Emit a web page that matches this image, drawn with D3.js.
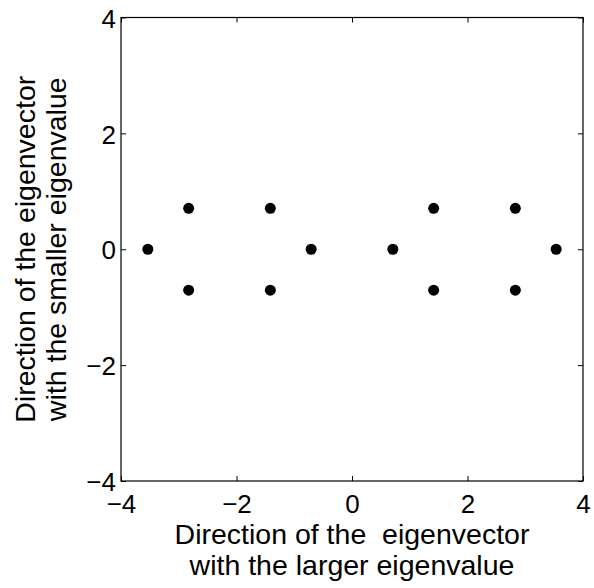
<!DOCTYPE html>
<html><head><meta charset="utf-8">
<script src="https://cdn.jsdelivr.net/npm/d3@7"></script>
<style>body{margin:0;background:#fff}svg{display:block}text{font-family:"Liberation Sans",Arial,sans-serif;fill:#000}</style>
</head><body><div id="chart"></div>
<script>
const xValues = [-3.5355, -2.8284, -2.8284, -1.4142, -1.4142, -0.7071, 0.7071, 1.4142, 1.4142, 2.8284, 2.8284, 3.5355];
const yValues = [0, 0.7071, -0.7071, 0.7071, -0.7071, 0, 0, 0.7071, -0.7071, 0.7071, -0.7071, 0];
const xTicks = [-4, -2, 0, 2, 4];
const yTicks = [-4, -2, 0, 2, 4];
const xLabelLines = ["Direction of the  eigenvector", "with the larger eigenvalue"];
const yLabelLines = ["Direction of the eigenvector", "with the smaller eigenvalue"];

const W = 594, H = 588;
const m = {left: 121, right: 11, top: 17.5, bottom: 107};
const svg = d3.select("#chart").append("svg").attr("width", W).attr("height", H);
const x = d3.scaleLinear().domain([-4, 4]).range([m.left, W - m.right]);
const y = d3.scaleLinear().domain([-4, 4]).range([H - m.bottom, m.top]);
const fsTick = 26, fsLabel = 28.5;

// box
svg.append("rect").attr("x", x(-4)).attr("y", y(4)).attr("width", x(4) - x(-4)).attr("height", y(-4) - y(4))
  .attr("fill", "none").attr("stroke", "#000").attr("stroke-width", 1.2);

const fmt = d => d < 0 ? "\u2212" + Math.abs(d) : d;
const gx = svg.append("g").attr("transform", `translate(0,${y(-4)})`)
  .call(d3.axisBottom(x).tickValues(xTicks).tickSizeInner(-5).tickSizeOuter(0).tickPadding(14).tickFormat(fmt));
const gxTop = svg.append("g").attr("transform", `translate(0,${y(4)})`)
  .call(d3.axisTop(x).tickValues(xTicks).tickSizeInner(-5).tickSizeOuter(0).tickFormat(""));
const gy = svg.append("g").attr("transform", `translate(${x(-4)},0)`)
  .call(d3.axisLeft(y).tickValues(yTicks).tickSizeInner(-5).tickSizeOuter(0).tickPadding(5).tickFormat(fmt));
const gyR = svg.append("g").attr("transform", `translate(${x(4)},0)`)
  .call(d3.axisRight(y).tickValues(yTicks).tickSizeInner(-5).tickSizeOuter(0).tickFormat(""));
[gx, gxTop, gy, gyR].forEach(g => {
  g.select(".domain").remove();
  g.selectAll("line").attr("stroke", "#000").attr("stroke-width", 1);
  g.selectAll("text").attr("font-size", fsTick).attr("font-family", "Liberation Sans, Arial, sans-serif").attr("fill", "#000");
});
gy.selectAll("text").attr("dy", "0.37em");

// points
svg.append("g").selectAll("circle").data(xValues.map((v, i) => [v, yValues[i]])).join("circle")
  .attr("cx", d => x(d[0])).attr("cy", d => y(d[1])).attr("r", 5.5).attr("fill", "#000");

// x label
const cx = (x(-4) + x(4)) / 2;
svg.append("text").attr("text-anchor", "middle").attr("font-size", fsLabel).style("white-space", "pre")
  .selectAll("tspan").data(xLabelLines).join("tspan")
  .attr("x", cx).attr("y", (d, i) => 543.5 + i * 31.5).text(d => d);

// y label
const cy = (y(-4) + y(4)) / 2;
svg.append("text").attr("text-anchor", "middle").attr("font-size", fsLabel)
  .attr("transform", `translate(0,${cy}) rotate(-90)`)
  .selectAll("tspan").data(yLabelLines).join("tspan")
  .attr("x", 0).attr("y", (d, i) => 35 + i * 30.5).text(d => d);
</script></body></html>
